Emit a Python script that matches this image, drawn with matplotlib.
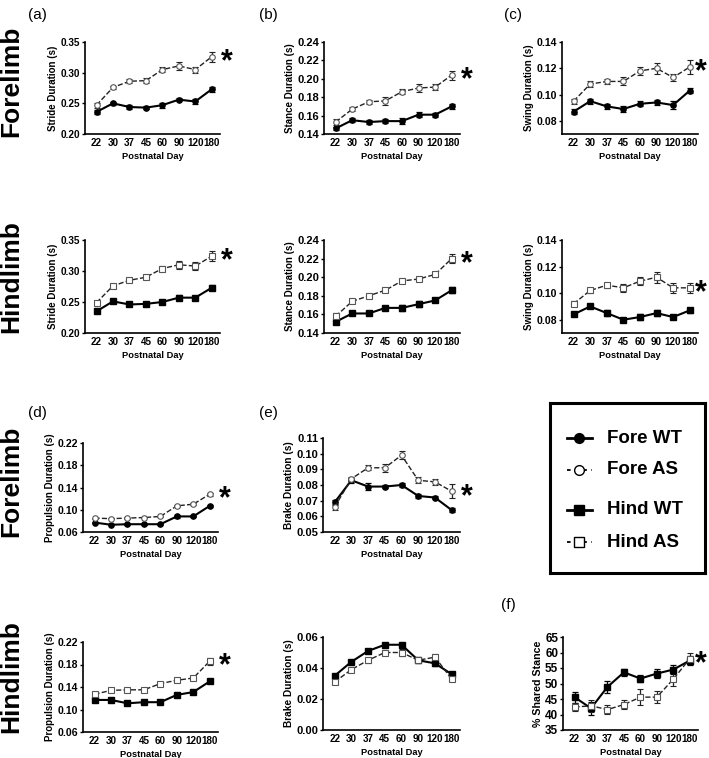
import numpy as np
import matplotlib.pyplot as plt
from matplotlib.ticker import FormatStrFormatter

plt.rcParams['font.family'] = ['Liberation Sans', 'DejaVu Sans']
plt.rcParams['font.weight'] = 'bold'

days = ['22', '30', '37', '45', '60', '90', '120', '180']

# (a) stride
stride_fore_wt = [0.236, 0.250, 0.244, 0.243, 0.247, 0.256, 0.253, 0.273]
stride_fore_wt_err = [0.003, 0.002, 0.003, 0.003, 0.004, 0.003, 0.004, 0.004]
stride_fore_as = [0.247, 0.276, 0.286, 0.287, 0.305, 0.311, 0.305, 0.326]
stride_fore_as_err = [0.004, 0.003, 0.003, 0.004, 0.004, 0.006, 0.005, 0.008]
stride_hind_wt = [0.235, 0.251, 0.246, 0.247, 0.250, 0.257, 0.257, 0.273]
stride_hind_wt_err = [0.002, 0.002, 0.002, 0.003, 0.004, 0.004, 0.003, 0.004]
stride_hind_as = [0.249, 0.276, 0.285, 0.290, 0.304, 0.310, 0.308, 0.324]
stride_hind_as_err = [0.003, 0.003, 0.002, 0.003, 0.004, 0.006, 0.006, 0.008]

# (b) stance
stance_fore_wt = [0.146, 0.155, 0.153, 0.154, 0.154, 0.161, 0.161, 0.170]
stance_fore_wt_err = [0.002, 0.002, 0.002, 0.002, 0.003, 0.003, 0.002, 0.003]
stance_fore_as = [0.153, 0.167, 0.175, 0.176, 0.186, 0.190, 0.191, 0.204]
stance_fore_as_err = [0.003, 0.002, 0.002, 0.004, 0.003, 0.004, 0.003, 0.005]
stance_hind_wt = [0.152, 0.161, 0.161, 0.167, 0.167, 0.171, 0.175, 0.186]
stance_hind_wt_err = [0.002, 0.002, 0.002, 0.002, 0.003, 0.003, 0.002, 0.003]
stance_hind_as = [0.158, 0.174, 0.180, 0.186, 0.196, 0.198, 0.203, 0.220]
stance_hind_as_err = [0.003, 0.002, 0.002, 0.002, 0.002, 0.002, 0.003, 0.005]

# (c) swing
swing_fore_wt = [0.087, 0.095, 0.091, 0.089, 0.093, 0.094, 0.092, 0.103]
swing_fore_wt_err = [0.002, 0.002, 0.002, 0.002, 0.002, 0.002, 0.003, 0.002]
swing_fore_as = [0.095, 0.108, 0.110, 0.110, 0.118, 0.120, 0.113, 0.121]
swing_fore_as_err = [0.002, 0.002, 0.002, 0.003, 0.003, 0.004, 0.003, 0.005]
swing_hind_wt = [0.084, 0.090, 0.085, 0.080, 0.082, 0.085, 0.082, 0.087]
swing_hind_wt_err = [0.001, 0.001, 0.002, 0.001, 0.002, 0.002, 0.001, 0.002]
swing_hind_as = [0.092, 0.102, 0.106, 0.104, 0.109, 0.112, 0.104, 0.104]
swing_hind_as_err = [0.002, 0.002, 0.002, 0.003, 0.003, 0.004, 0.004, 0.004]

# (d) propulsion
prop_fore_wt = [0.077, 0.073, 0.074, 0.074, 0.074, 0.088, 0.088, 0.107]
prop_fore_wt_err = [0.001, 0.001, 0.001, 0.001, 0.001, 0.002, 0.001, 0.002]
prop_fore_as = [0.085, 0.084, 0.085, 0.086, 0.088, 0.107, 0.110, 0.128]
prop_fore_as_err = [0.001, 0.001, 0.001, 0.001, 0.001, 0.002, 0.002, 0.003]
prop_hind_wt = [0.117, 0.117, 0.111, 0.113, 0.113, 0.126, 0.131, 0.150]
prop_hind_wt_err = [0.002, 0.002, 0.002, 0.002, 0.002, 0.002, 0.002, 0.003]
prop_hind_as = [0.127, 0.134, 0.135, 0.135, 0.146, 0.152, 0.156, 0.186]
prop_hind_as_err = [0.002, 0.002, 0.002, 0.002, 0.002, 0.003, 0.003, 0.006]

# (e) brake
brake_fore_wt = [0.069, 0.083, 0.079, 0.079, 0.080, 0.073, 0.072, 0.064]
brake_fore_wt_err = [0.0015, 0.0015, 0.002, 0.001, 0.0015, 0.0015, 0.0012, 0.0015]
brake_fore_as = [0.066, 0.084, 0.091, 0.091, 0.099, 0.083, 0.082, 0.076]
brake_fore_as_err = [0.002, 0.001, 0.0015, 0.0025, 0.0025, 0.002, 0.002, 0.0045]
brake_hind_wt = [0.035, 0.044, 0.051, 0.055, 0.055, 0.045, 0.043, 0.036]
brake_hind_wt_err = [0.001, 0.001, 0.001, 0.001, 0.001, 0.001, 0.002, 0.001]
brake_hind_as = [0.031, 0.039, 0.045, 0.050, 0.050, 0.045, 0.047, 0.033]
brake_hind_as_err = [0.001, 0.0015, 0.0015, 0.0015, 0.002, 0.0015, 0.002, 0.001]

# (f) shared stance
shared_wt = [45.6, 42.0, 48.9, 53.6, 51.6, 53.2, 54.5, 57.4]
shared_wt_err = [1.8, 2.0, 2.0, 1.2, 1.2, 1.5, 1.5, 1.5]
shared_as = [42.4, 42.8, 41.6, 43.2, 45.6, 45.6, 51.4, 58.0]
shared_as_err = [1.3, 2.0, 1.5, 1.5, 2.5, 2.0, 2.2, 1.8]

W, H = 709, 758
fig = plt.figure(figsize=(W / 100, H / 100), dpi=100)


def add_ax(left, top, right, bottom):
    return fig.add_axes([left / W, 1 - bottom / H, (right - left) / W, (bottom - top) / H])


def draw(ax, wt, wt_err, asv, as_err, marker, ylabel, ylim, yticks, fmt,
         star=True, star_dx=11, tick_fs=7.6, label_fs=7):
    x = np.arange(len(days))
    ax.errorbar(x, wt, yerr=wt_err, color='black', lw=1.5, marker=marker, ms=3.8,
                mfc='black', mec='black', capsize=2, elinewidth=0.9, capthick=0.9)
    ax.errorbar(x, asv, yerr=as_err, color='#222222', ls='--', lw=1.0, marker=marker, ms=4,
                mfc='white', mec='#555555', mew=0.8, ecolor='#222222',
                capsize=2, elinewidth=0.9, capthick=0.9)
    ax.set_xlim(-0.7, 7.5)
    ax.set_ylim(*ylim)
    ax.set_yticks(yticks)
    ax.yaxis.set_major_formatter(FormatStrFormatter(fmt))
    ax.set_xticks(x)
    ax.set_xticklabels(days)
    for s in ['top', 'right']:
        ax.spines[s].set_visible(False)
    for s in ['left', 'bottom']:
        ax.spines[s].set_linewidth(1.2)
    ax.tick_params(axis='y', labelsize=tick_fs, length=2.5, width=1, pad=1)
    ax.tick_params(axis='x', labelsize=7.1, length=0, pad=3)
    ax.set_ylabel(ylabel, fontsize=label_fs, fontweight='bold', labelpad=1.5)
    ax.set_xlabel('Postnatal Day', fontsize=6.7, fontweight='bold', labelpad=3)
    if star:
        ax.annotate('*', xy=(7, asv[-1]), xytext=(star_dx, -4), textcoords='offset points',
                    fontsize=22, fontweight='bold', ha='center', va='center',
                    annotation_clip=False)


ax = add_ax(85, 42, 220, 134)
draw(ax, stride_fore_wt, stride_fore_wt_err, stride_fore_as, stride_fore_as_err, 'o',
     'Stride Duration (s)', (0.20, 0.35), [0.20, 0.25, 0.30, 0.35], '%.2f', tick_fs=7.2)
ax = add_ax(324, 42, 460, 134)
draw(ax, stance_fore_wt, stance_fore_wt_err, stance_fore_as, stance_fore_as_err, 'o',
     'Stance Duration (s)', (0.14, 0.24), [0.14, 0.16, 0.18, 0.20, 0.22, 0.24], '%.2f', tick_fs=8)
ax = add_ax(562, 42, 698, 134)
draw(ax, swing_fore_wt, swing_fore_wt_err, swing_fore_as, swing_fore_as_err, 'o',
     'Swing Duration (s)', (0.07, 0.14), [0.08, 0.10, 0.12, 0.14], '%.2f', star_dx=8)

ax = add_ax(85, 240, 220, 333)
draw(ax, stride_hind_wt, stride_hind_wt_err, stride_hind_as, stride_hind_as_err, 's',
     'Stride Duration (s)', (0.20, 0.35), [0.20, 0.25, 0.30, 0.35], '%.2f', tick_fs=7.2)
ax = add_ax(324, 240, 460, 333)
draw(ax, stance_hind_wt, stance_hind_wt_err, stance_hind_as, stance_hind_as_err, 's',
     'Stance Duration (s)', (0.14, 0.24), [0.14, 0.16, 0.18, 0.20, 0.22, 0.24], '%.2f', tick_fs=8)
ax = add_ax(562, 240, 698, 333)
draw(ax, swing_hind_wt, swing_hind_wt_err, swing_hind_as, swing_hind_as_err, 's',
     'Swing Duration (s)', (0.07, 0.14), [0.08, 0.10, 0.12, 0.14], '%.2f', star_dx=8)

ax = add_ax(83, 443, 218, 532)
draw(ax, prop_fore_wt, prop_fore_wt_err, prop_fore_as, prop_fore_as_err, 'o',
     'Propulsion Duration (s)', (0.06, 0.22), [0.06, 0.10, 0.14, 0.18, 0.22], '%.2f')
ax = add_ax(323, 438, 460, 532)
draw(ax, brake_fore_wt, brake_fore_wt_err, brake_fore_as, brake_fore_as_err, 'o',
     'Brake Duration (s)', (0.05, 0.11), [0.05, 0.06, 0.07, 0.08, 0.09, 0.10, 0.11], '%.2f',
     tick_fs=8, label_fs=7.3)

ax = add_ax(83, 642, 218, 732)
draw(ax, prop_hind_wt, prop_hind_wt_err, prop_hind_as, prop_hind_as_err, 's',
     'Propulsion Duration (s)', (0.06, 0.22), [0.06, 0.10, 0.14, 0.18, 0.22], '%.2f')
ax = add_ax(323, 637, 460, 730)
draw(ax, brake_hind_wt, brake_hind_wt_err, brake_hind_as, brake_hind_as_err, 's',
     'Brake Duration (s)', (0.0, 0.06), [0.00, 0.02, 0.04, 0.06], '%.2f', star=False,
     tick_fs=8, label_fs=7.3)
ax = add_ax(563, 637, 698, 730)
draw(ax, shared_wt, shared_wt_err, shared_as, shared_as_err, 's',
     '% Shared Stance', (35, 65), [35, 40, 45, 50, 55, 60, 65], '%d', star_dx=8,
     tick_fs=8.5, label_fs=7.7)

# legend box
lg = add_ax(550, 403, 705, 573)
lg.set_xlim(0, 1)
lg.set_ylim(0, 1)
lg.set_xticks([])
lg.set_yticks([])
for s in lg.spines.values():
    s.set_linewidth(2.2)
entries = [('Fore WT', 'o', '-', 'black'), ('Fore AS', 'o', '--', 'white'),
           ('Hind WT', 's', '-', 'black'), ('Hind AS', 's', '--', 'white')]
ys = [0.794, 0.606, 0.371, 0.182]
for (lab, m, ls, fc), y in zip(entries, ys):
    lg.plot([0.11, 0.27], [y, y], color='black', ls=ls, lw=2 if ls == '-' else 1.3,
            dashes=(2, 2.5) if ls == '--' else (None, None))
    lg.plot([0.19], [y], marker=m, ms=7, mfc=fc, mec='black', mew=1,
            color='black', ls='none')
    lg.text(0.37, y, lab, fontsize=13.5, fontweight='bold', va='center', ha='left')

# row labels and panel letters
for y, lab in [(81, 'Forelimb'), (277, 'Hindlimb'), (481, 'Forelimb'), (677, 'Hindlimb')]:
    fig.text(11 / W, 1 - y / H, lab, rotation=90, fontsize=19, fontweight='bold',
             ha='center', va='center')
for x, y, lab in [(37, 15, '(a)'), (268, 15, '(b)'), (513, 15, '(c)'),
                  (37, 413, '(d)'), (268, 413, '(e)'), (508, 605, '(f)')]:
    fig.text(x / W, 1 - y / H, lab, fontsize=11, fontweight='normal', ha='center', va='center')

fig.savefig('out.png', dpi=100)
